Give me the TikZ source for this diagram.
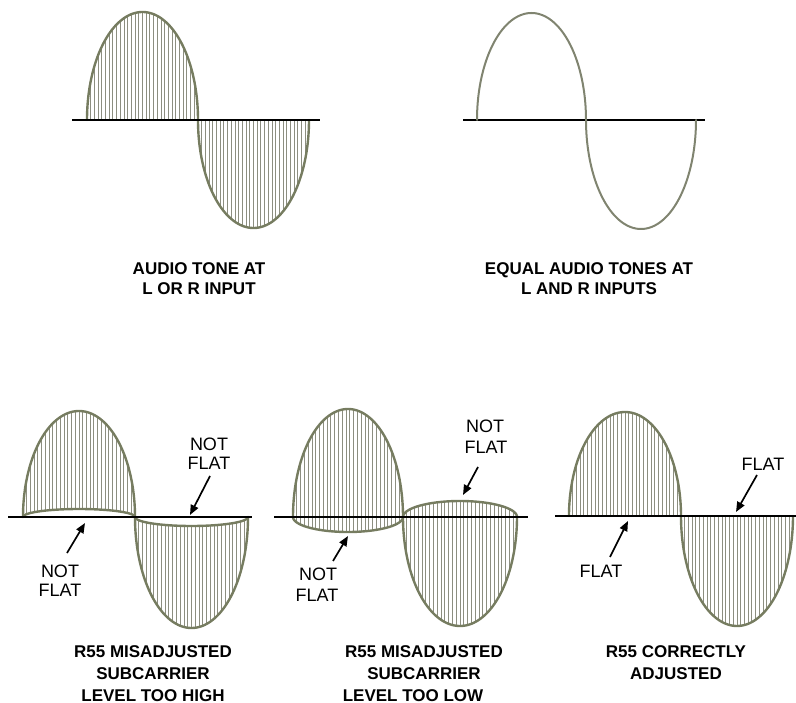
\documentclass[tikz,border=0pt]{standalone}
\usepackage{fontspec}
\setmainfont{Liberation Sans}
\usetikzlibrary{arrows.meta}
\definecolor{wavec}{RGB}{118,124,96}
\definecolor{hatchc}{RGB}{140,142,128}
\definecolor{wavelc}{RGB}{128,132,112}
\tikzset{
  wave/.style={draw=wavec, line width=2.4pt, line join=round, line cap=round},
  wavethin/.style={draw=wavelc, line width=2pt, line join=round, line cap=round},
  hatch/.style={draw=hatchc, line width=0.9pt},
  axisline/.style={draw=black, line width=1.4pt},
  lbl/.style={anchor=base, inner sep=0pt, font=\fontsize{17}{20}\selectfont\bfseries},
  nf/.style={anchor=base, inner sep=0pt, font=\fontsize{18}{20}\selectfont},
  arr/.style={draw=black, line width=1.7pt, -{Triangle[length=10pt,width=8pt]}}
}
% #2 x start, #3 x end, #4 axis y, #5 amplitude (negative = up)
\newcommand{\wvarc}[5][wave]{%
  \draw[#1] plot[domain=180:0, samples=91, variable=\t]
    ({(#2+#3)/2+(#3-#2)/2*cos(\t)}, {#4+(#5)*sin(\t)});
}
% #1 x start, #2 x end, #3 axis y, #4 outer amplitude, #5 inner amplitude
\newcommand{\wvhatch}[5]{%
  \pgfmathsetmacro{\wvw}{#2-#1}%
  \pgfmathtruncatemacro{\wvn}{\wvw/3.8}%
  \pgfmathsetmacro{\wvdx}{\wvw/(\wvn+1)}%
  \foreach \k in {1,...,\wvn}{%
    \pgfmathsetmacro{\wvu}{2*\k/(\wvn+1)-1}%
    \pgfmathsetmacro{\wvx}{#1+\k*\wvdx}%
    \pgfmathsetmacro{\wvs}{sqrt(1-\wvu*\wvu)}%
    \draw[hatch] (\wvx,{#3+(#5)*\wvs}) -- (\wvx,{#3+(#4)*\wvs});
  }%
}
\begin{document}
\begin{tikzpicture}[x=1pt, y=-1pt]
\useasboundingbox (0,0) rectangle (796,703);

% ---------- top left: audio tone at L or R ----------
\wvhatch{87}{198}{120}{-108}{0}
\wvhatch{198}{309}{120}{108}{0}
\wvarc{87}{198}{120}{-108}
\wvarc{198}{309}{120}{108}
\coordinate (tlA) at (72,120);
\coordinate (tlB) at (320,120);
\draw[axisline] (tlA) -- (tlB);
\node[lbl] (a1) at (199,275) {AUDIO TONE AT};
\node[lbl] (a2) at (199,295) {L OR R INPUT};

% ---------- top right: equal tones ----------
\coordinate (trA) at (463,120);
\coordinate (trB) at (705,120);
\draw[axisline] (trA) -- (trB);
\wvarc[wavethin]{477}{586}{120}{-107}
\wvarc[wavethin]{586}{696}{120}{109}
\node[lbl] (b1) at (589,275) {EQUAL AUDIO TONES AT};
\node[lbl] (b2) at (589,295) {L AND R INPUTS};

% ---------- bottom left: too high ----------
\wvhatch{23}{135}{517}{-106}{-8}
\wvhatch{135}{248}{517}{111}{9}
\wvarc{23}{135}{517}{-106}
\wvarc{135}{248}{517}{111}
\wvarc{23}{135}{517}{-8}
\wvarc{135}{248}{517}{9}
\coordinate (blA) at (8,517);
\coordinate (blB) at (252,517);
\draw[axisline] (blA) -- (blB);
\node[nf] (n1a) at (209,450) {NOT};
\node[nf] (n1b) at (209,470) {FLAT};
\node[nf] (n2a) at (60,577) {NOT};
\node[nf] (n2b) at (60,596) {FLAT};
\coordinate (n1s) at (210,476);
\coordinate (n1t) at (190,515);
\coordinate (n2s) at (67,553);
\coordinate (n2t) at (85,523);
\draw[arr] (n1s) -- (n1t);
\draw[arr] (n2s) -- (n2t);
\node[lbl] (c1) at (153,657) {R55 MISADJUSTED};
\node[lbl] (c2) at (153,679) {SUBCARRIER};
\node[lbl] (c3) at (153,701) {LEVEL TOO HIGH};

% ---------- bottom middle: too low ----------
\wvhatch{293}{403}{517}{-108}{15}
\wvhatch{403}{517}{517}{109}{-16}
\wvarc{293}{403}{517}{-108}
\wvarc{403}{517}{517}{109}
\wvarc{293}{403}{517}{15}
\wvarc{403}{517}{517}{-16}
\coordinate (bmA) at (274,517);
\coordinate (bmB) at (528,517);
\draw[axisline] (bmA) -- (bmB);
\node[nf] (n3a) at (485,433) {NOT};
\node[nf] (n3b) at (486,454) {FLAT};
\node[nf] (n4a) at (318,580) {NOT};
\node[nf] (n4b) at (317,601) {FLAT};
\coordinate (n3s) at (478,467);
\coordinate (n3t) at (463,495);
\coordinate (n4s) at (333,561);
\coordinate (n4t) at (348,536);
\draw[arr] (n3s) -- (n3t);
\draw[arr] (n4s) -- (n4t);
\node[lbl] (d1) at (424,657) {R55 MISADJUSTED};
\node[lbl] (d2) at (424,679) {SUBCARRIER};
\node[lbl] (d3) at (413,701) {LEVEL TOO LOW};

% ---------- bottom right: correct ----------
\wvhatch{569}{681}{516}{-104}{0}
\wvhatch{681}{793}{516}{110}{0}
\wvarc{569}{681}{516}{-104}
\wvarc{681}{793}{516}{110}
\coordinate (brA) at (555,516);
\coordinate (brB) at (796,516);
\draw[axisline] (brA) -- (brB);
\node[nf] (f1) at (763,471) {FLAT};
\node[nf] (f2) at (601,577) {FLAT};
\coordinate (f1s) at (757,475);
\coordinate (f1t) at (736,512);
\coordinate (f2s) at (610,557);
\coordinate (f2t) at (628,521);
\draw[arr] (f1s) -- (f1t);
\draw[arr] (f2s) -- (f2t);
\node[lbl] (e1) at (676,657) {R55 CORRECTLY};
\node[lbl] (e2) at (676,679) {ADJUSTED};
\end{tikzpicture}
\end{document}
